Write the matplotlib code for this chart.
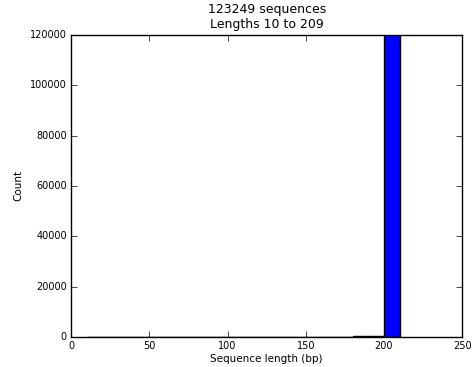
import numpy as np
import matplotlib
matplotlib.use("Agg")
import matplotlib.pyplot as plt

plt.style.use("classic")

# histogram bins (bp) and counts
bin_edges = [10, 20, 30, 40, 50, 60, 70, 80, 90, 100, 110, 120, 130, 140,
             150, 160, 170, 180, 190, 200, 210]
counts = [60, 0, 0, 70, 0, 0, 0, 50, 50, 0, 30, 30, 30, 30,
          30, 30, 30, 300, 400, 122089]

fig = plt.figure(figsize=(4.74, 3.67), dpi=100)
ax = fig.add_axes([0.150, 0.082, 0.825, 0.823])

edges = np.array(bin_edges)
ax.bar(edges[:-1], counts, width=np.diff(edges), align="edge",
       color="blue", edgecolor="black", linewidth=1)

ax.set_xlim(0, 250)
ax.set_ylim(0, 120000)
ax.set_xticks([0, 50, 100, 150, 200, 250])
ax.set_yticks(np.arange(0, 120001, 20000))
ax.tick_params(labelsize=7, pad=3)
ax.set_xlabel("Sequence length (bp)", fontsize=7.5, labelpad=2)
ax.set_ylabel("Count", fontsize=7.5, labelpad=5)
ax.set_title("123249 sequences\nLengths 10 to 209", fontsize=9, y=1.0)

fig.savefig("out.png", dpi=100)
